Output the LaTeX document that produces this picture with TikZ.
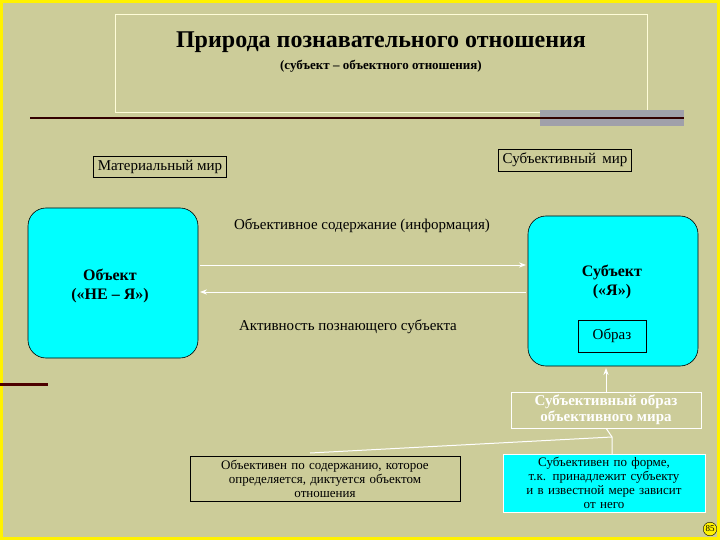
\documentclass[tikz,border=0pt]{standalone}
\usepackage{fontspec}
\setmainfont{Liberation Serif}
\usetikzlibrary{arrows.meta}
\definecolor{cy}{RGB}{0,255,255}
\begin{document}
\begin{tikzpicture}[x=1pt,y=-1pt,
 rbox/.style={draw=black,rounded corners=18pt,fill=cy,line width=0.6pt},
 lbl/.style={draw=black,line width=0.8pt,inner sep=4pt},
 wl/.style={draw=white,line width=1pt},
 wa/.style={draw=white,line width=1pt,-{Stealth[length=7pt]}}]
\fill[yellow] (0,0) rectangle (720,540);
\fill[fill={rgb,255:red,204;green,204;blue,153}] (3,3) rectangle (717,537);
\useasboundingbox (0,0) rectangle (720,540);
\draw[white!85!yellow] (115,14) rectangle (647,112);
\node (title) at (381,42) {\fontsize{24}{28}\selectfont\bfseries Природа познавательного отношения};
\node (sub) at (381,66) {\fontsize{13}{15}\selectfont\bfseries (субъект – объектного отношения)};
\fill[fill={rgb,255:red,160;green,160;blue,170}] (540,110) rectangle (684,126);
\draw[line width=2.5pt,black!80!red] (30,118) -- (684,118);
\node[lbl,font=\fontsize{15}{17}\selectfont] (mat) at (160,167) {Материальный мир};
\node[lbl,font=\fontsize{15}{17}\selectfont] (subw) at (565,160) {Субъективный \,мир};
\draw[rbox] (28,208) rectangle (198,358);
\draw[rbox] (528,216) rectangle (698,366);
\node (obj) at (110,286) {\fontsize{16}{19}\selectfont\bfseries\begin{tabular}{c}Объект\\(«НЕ – Я»)\end{tabular}};
\node (subj) at (612,282) {\fontsize{16}{19}\selectfont\bfseries\begin{tabular}{c}Субъект\\(«Я»)\end{tabular}};
\coordinate (a1) at (200,265); \coordinate (b1) at (526,265);
\coordinate (a2) at (200,292); \coordinate (b2) at (526,292);
\draw[wa] (a1) -- (b1);
\draw[wa] (b2) -- (a2);
\node[font=\fontsize{15}{17}\selectfont] (oc) at (362,226) {Объективное содержание (информация)};
\node[font=\fontsize{15}{17}\selectfont] (act) at (348,327) {Активность познающего субъекта};
\node[lbl,fill=cy,font=\fontsize{15}{17}\selectfont,minimum width=68pt,minimum height=32pt] (obr) at (612,336) {Образ};
\node[draw=white,text=white,font=\fontsize{15}{16}\selectfont\bfseries,align=center,inner sep=3pt,minimum width=190pt] (si) at (606,410) {Субъективный образ\\объективного мира};
\draw[wa] (si.north) -- (606,368);
\node[lbl,font=\fontsize{13}{14}\selectfont,align=center,text width=262pt,inner sep=4pt] (lo) at (325,479) {Объективен по содержанию, которое\\определяется, диктуется объектом\\отношения};
\node[draw=white,fill=cy,font=\fontsize{13}{14}\selectfont,align=center,text width=196pt,inner sep=3pt] (ro) at (604,483) {Субъективен по форме,\\т.к. принадлежит субъекту\\и в известной мере зависит\\от него};
\coordinate (j) at (612,437);
\draw[wl] (si.south) -- (j) -- (ro.north -| j);
\draw[wl] (j) -- (310,453);
\draw[line width=3pt,black!70!red] (0,384) -- (48,384);
\node[draw=black,fill=yellow,circle,inner sep=1pt,font=\fontsize{9}{10}\selectfont] (pg) at (710,529) {85};
\end{tikzpicture}
\end{document}
